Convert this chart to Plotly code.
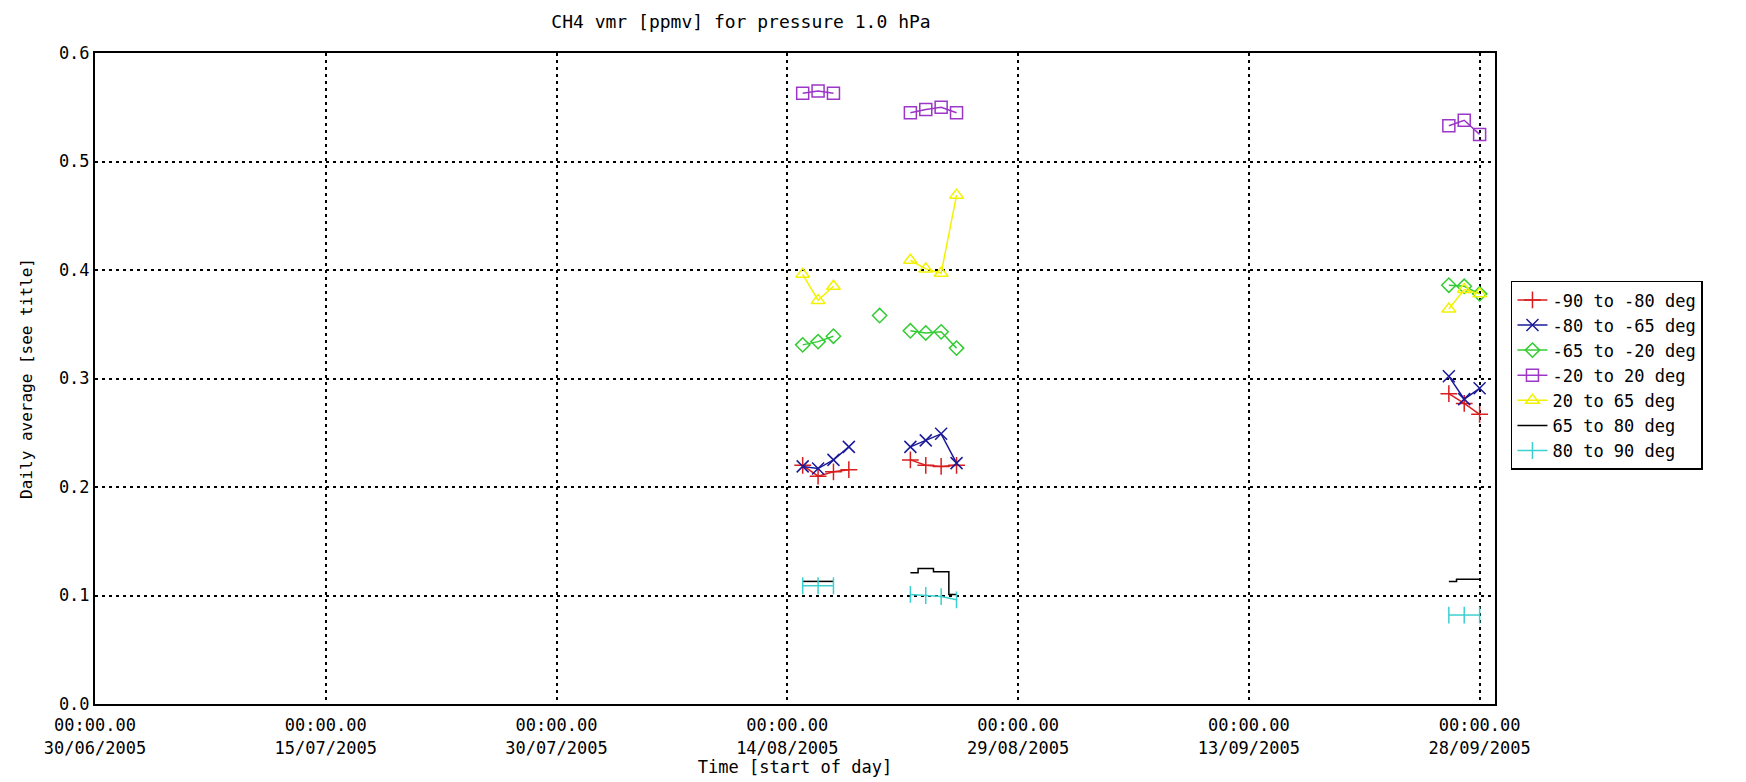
import plotly.graph_objects as go

# ---- data (days are calendar dates; None marks gaps between observation periods) ----
dates = ["2005-08-15", "2005-08-16", "2005-08-17", "2005-08-18", "2005-08-19", "2005-08-20",
         "2005-08-21", "2005-08-22", "2005-08-23", "2005-08-24", "2005-08-25", "2005-09-01",
         "2005-09-26", "2005-09-27", "2005-09-28"]

lat_m90_m80 = [0.220, 0.210, 0.214, 0.216, None, None, None, 0.225, 0.220, 0.219, 0.220, None, 0.286, 0.277, 0.267]
lat_m80_m65 = [0.219, 0.217, 0.225, 0.237, None, None, None, 0.237, 0.243, 0.249, 0.222, None, 0.302, 0.281, 0.291]
lat_m65_m20 = [0.331, 0.334, 0.339, None, None, 0.358, None, 0.344, 0.342, 0.343, 0.328, None, 0.386, 0.385, 0.378]
lat_m20_p20 = [0.563, 0.565, 0.563, None, None, None, None, 0.545, 0.548, 0.550, 0.545, None, 0.533, 0.538, 0.525]
lat_p20_p65 = [0.396, 0.372, 0.385, None, None, None, None, 0.409, 0.401, 0.397, 0.469, None, 0.364, 0.382, 0.378]
lat_p65_p80 = [0.113, 0.113, 0.113, None, None, None, None, 0.121, 0.125, 0.122, 0.101, None, 0.113, 0.115, 0.115]
lat_p80_p90 = [0.109, 0.109, 0.109, None, None, None, None, 0.101, 0.100, 0.099, 0.096, None, 0.082, 0.082, 0.082]

series_names = ["-90 to -80 deg", "-80 to -65 deg", "-65 to -20 deg", "-20 to 20 deg",
                "20 to 65 deg", "65 to 80 deg", "80 to 90 deg"]

x_tick_dates = ["2005-06-30", "2005-07-15", "2005-07-30", "2005-08-14",
                "2005-08-29", "2005-09-13", "2005-09-28"]
x_tick_text = ["00:00.00<br>30/06/2005", "00:00.00<br>15/07/2005", "00:00.00<br>30/07/2005",
               "00:00.00<br>14/08/2005", "00:00.00<br>29/08/2005", "00:00.00<br>13/09/2005",
               "00:00.00<br>28/09/2005"]
y_tick_vals = [0.0, 0.1, 0.2, 0.3, 0.4, 0.5, 0.6]

FONT = "DejaVu Sans Mono"

fig = go.Figure()

styles = [
    dict(color="#d81e1e", symbol="cross-thin", size=12),
    dict(color="#1a1a9a", symbol="x-thin", size=12),
    dict(color="#33cc33", symbol="diamond-open", size=11),
    dict(color="#9b36c8", symbol="square-open", size=12),
    dict(color="#f2f200", symbol="triangle-up-open", size=12),
]
values = [lat_m90_m80, lat_m80_m65, lat_m65_m20, lat_m20_p20, lat_p20_p65]
for name, vals, st in zip(series_names[:5], values, styles):
    fig.add_trace(go.Scatter(
        x=dates, y=vals, name=name, mode="lines+markers",
        line=dict(color=st["color"], width=1.5),
        marker=dict(symbol=st["symbol"], size=st["size"], color=st["color"],
                    line=dict(color=st["color"], width=1.5)),
        connectgaps=False,
    ))

fig.add_trace(go.Scatter(
    x=dates, y=lat_p65_p80, name=series_names[5], mode="lines",
    line=dict(color="black", width=1.5, shape="hvh"), connectgaps=False,
))

fig.add_trace(go.Scatter(
    x=dates, y=lat_p80_p90, name=series_names[6], mode="lines+markers",
    line=dict(color="#3cd0d0", width=1.5),
    marker=dict(symbol="line-ns", size=12, color="#3cd0d0",
                line=dict(color="#3cd0d0", width=1.5)),
    connectgaps=False,
))

fig.update_layout(
    width=1746, height=782,
    margin=dict(l=87, r=259, t=45, b=86),
    paper_bgcolor="white", plot_bgcolor="white",
    font=dict(family=FONT, size=17, color="black"),
    title=dict(text="CH4 vmr [ppmv] for pressure 1.0 hPa", x=733 / 1746,
               xanchor="center", y=1 - 14 / 782, yanchor="middle",
               font=dict(family=FONT, size=18, color="black")),
    legend=dict(x=1.0114, xanchor="left", y=0.65, yanchor="top",
                bordercolor="black", borderwidth=1.5, bgcolor="white",
                font=dict(family=FONT, size=17, color="black"),
                tracegroupgap=0, itemwidth=30),
    showlegend=True,
)

fig.update_xaxes(
    type="date", range=["2005-06-30", "2005-09-29"],
    tickmode="array", tickvals=x_tick_dates, ticktext=x_tick_text,
    showgrid=True, gridcolor="black", gridwidth=1.5, griddash="3px,4px",
    showline=True, linecolor="black", linewidth=2, mirror=True,
    ticks="", zeroline=False, ticklabelstandoff=5,
    tickfont=dict(family=FONT, size=17),
    title=dict(text="Time [start of day]", font=dict(family=FONT, size=17), standoff=2),
)
fig.update_yaxes(
    range=[0, 0.6], tickmode="array", tickvals=y_tick_vals, tickformat=".1f",
    showgrid=True, gridcolor="black", gridwidth=1.5, griddash="3px,4px",
    showline=True, linecolor="black", linewidth=2, mirror=True,
    ticks="", zeroline=False,
    tickfont=dict(family=FONT, size=17),
    title=dict(text="Daily average [see title]", font=dict(family=FONT, size=16), standoff=22),
)

fig.write_html("out.html")
